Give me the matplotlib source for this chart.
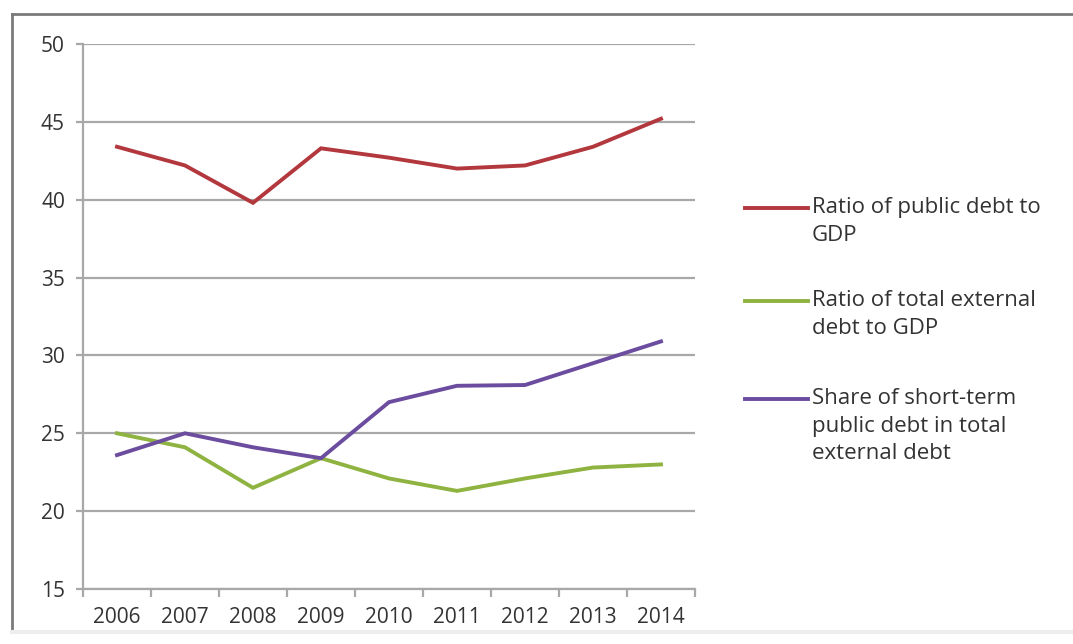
import matplotlib.pyplot as plt
from matplotlib.lines import Line2D

plt.rcParams['font.family'] = ['Open Sans', 'DejaVu Sans']

years = ['2006', '2007', '2008', '2009', '2010', '2011', '2012', '2013', '2014']
public_debt_gdp = [43.4, 42.2, 39.8, 43.3, 42.7, 42.0, 42.2, 43.4, 45.2]
external_debt_gdp = [25.0, 24.1, 21.5, 23.4, 22.1, 21.3, 22.1, 22.8, 23.0]
short_term_share = [23.6, 25.0, 24.1, 23.4, 27.0, 28.05, 28.1, 29.5, 30.9]

labels = ['Ratio of public debt to\nGDP',
          'Ratio of total external\ndebt to GDP',
          'Share of short-term\npublic debt in total\nexternal debt']
colors = ['#B3383E', '#8FB340', '#6B4C9E']
series = [public_debt_gdp, external_debt_gdp, short_term_share]

W, H = 1073, 644
fig = plt.figure(figsize=(W / 100, H / 100), dpi=100)
ax = fig.add_axes([83 / W, 1 - 589 / H, (695 - 83) / W, (589 - 44) / H])

x = range(len(years))
for vals, c in zip(series, colors):
    ax.plot(x, vals, color=c, lw=2.8, solid_joinstyle='miter', zorder=3)

ax.set_xlim(-0.5, len(years) - 0.5)
ax.set_ylim(15, 50)
ax.set_yticks(range(15, 51, 5))
ax.set_xticks(list(x))
ax.set_xticklabels(years)
ax.set_xticks([i - 0.5 for i in range(len(years) + 1)], minor=True)

grid_c = '#A8A8A8'
ax.yaxis.grid(True, color=grid_c, lw=1.6)
ax.set_axisbelow(True)
for s in ['top', 'right']:
    ax.spines[s].set_visible(False)
for s in ['left', 'bottom']:
    ax.spines[s].set_color(grid_c)
    ax.spines[s].set_linewidth(1.6)

ax.tick_params(axis='y', length=5, width=1.6, color=grid_c, pad=8,
               labelsize=15, labelcolor='#333333')
ax.tick_params(axis='x', which='major', length=0, pad=13,
               labelsize=15, labelcolor='#333333')
ax.tick_params(axis='x', which='minor', length=6, width=1.6, color=grid_c)

# legend entries on the right, handle level with the first text line
legend_y = [208, 301, 399]
for lab, c, ly in zip(labels, colors, legend_y):
    fig.add_artist(Line2D([745 / W, 808 / W], [1 - ly / H, 1 - ly / H],
                          color=c, lw=2.8, transform=fig.transFigure))
    fig.text(812 / W, 1 - (ly - 11) / H, lab, ha='left', va='top',
             fontsize=16, color='#333333', linespacing=1.42)

# outer frame
fig.add_artist(Line2D([12 / W, 12 / W], [1 - 632 / H, 1 - 14 / H],
                      color='#7A7A7A', lw=2, transform=fig.transFigure))
fig.add_artist(Line2D([12 / W, 1], [1 - 14 / H, 1 - 14 / H],
                      color='#7A7A7A', lw=2, transform=fig.transFigure))
fig.add_artist(Line2D([12 / W, 1], [1 - 632 / H, 1 - 632 / H],
                      color='#EEEEEE', lw=3, transform=fig.transFigure))

fig.savefig('out.png', dpi=100)
